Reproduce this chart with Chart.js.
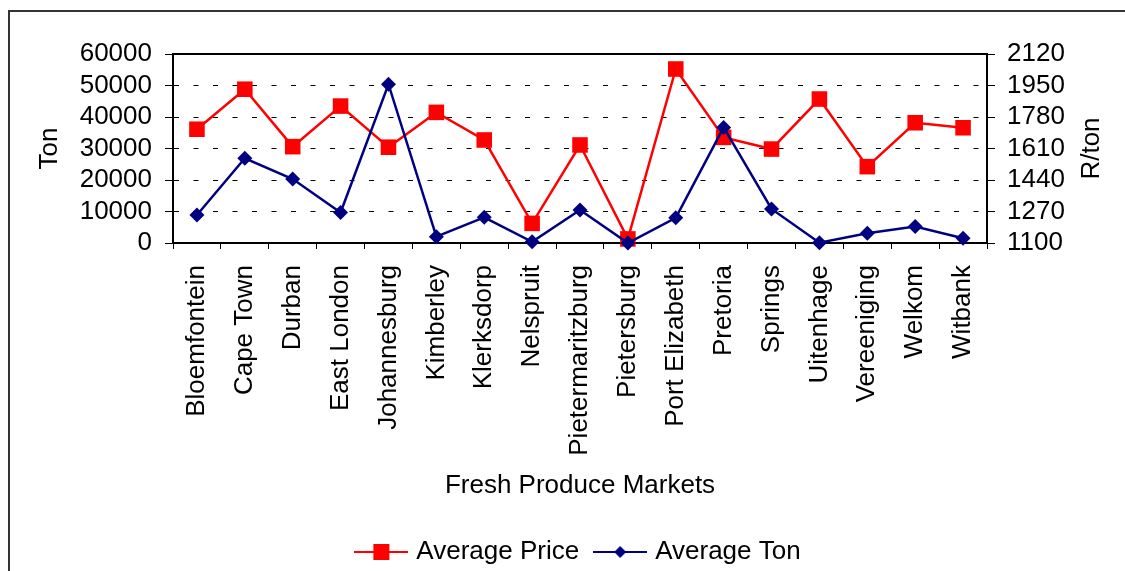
<!DOCTYPE html>
<html>
<head>
<meta charset="utf-8">
<script src="https://cdn.jsdelivr.net/npm/chart.js@4"></script>
<style>
  html, body { margin: 0; padding: 0; background: #fff; overflow: hidden; }
  #wrap { position: relative; width: 1125px; height: 571px; }
  #frame { position: absolute; left: 8px; top: 10px; width: 2000px; height: 2000px; border: 2px solid #333; box-sizing: border-box; }
  #box { position: absolute; left: 0; top: 0; width: 1125px; height: 571px; }
</style>
</head>
<body>
<div id="wrap">
  <div id="frame"></div>
  <div id="box"><canvas id="chart"></canvas></div>
</div>
<script>
const markets = ["Bloemfontein", "Cape Town", "Durban", "East London", "Johannesburg", "Kimberley",
  "Klerksdorp", "Nelspruit", "Pietermaritzburg", "Pietersburg", "Port Elizabeth", "Pretoria",
  "Springs", "Uitenhage", "Vereeniging", "Welkom", "Witbank"];
// R/ton, right axis
const avgPrice = [1714, 1930, 1620, 1839, 1617, 1805, 1656, 1206, 1629, 1122, 2039, 1670, 1607, 1877, 1512, 1749, 1722];
// ton, left axis
const avgTon = [8900, 26900, 20300, 9700, 50400, 2000, 8150, 400, 10500, 0, 8000, 36700, 10800, 100, 3100, 5200, 1500];

const tonTicks = { min: 0, max: 60000, step: 10000 };
const priceTicks = { min: 1100, max: 2120, step: 170 };
const xTitle = "Fresh Produce Markets";
const leftTitle = "Ton";
const rightTitle = "R/ton";

const RED = "#FF0000";
const NAVY = "#000080";
const FONT = "'Liberation Sans', Arial, sans-serif";

Chart.defaults.font.family = FONT;
Chart.defaults.font.size = 26;
Chart.defaults.color = "#000";

// legend icon: line with the marker in the middle
function legendIcon(color, shape) {
  const c = document.createElement("canvas");
  c.width = 54; c.height = 18;
  const g = c.getContext("2d");
  g.strokeStyle = color; g.lineWidth = 2;
  g.beginPath(); g.moveTo(0, 9); g.lineTo(54, 9); g.stroke();
  g.fillStyle = color;
  if (shape === "rect") {
    g.fillRect(19, 1, 16, 16);
  } else {
    g.beginPath();
    g.moveTo(27, 3); g.lineTo(33, 9); g.lineTo(27, 15); g.lineTo(21, 9);
    g.closePath(); g.fill();
  }
  return c;
}
const icons = [legendIcon(RED, "rect"), legendIcon(NAVY, "diamond")];

// top edge of the plot area + rotated right title
const extras = {
  id: "extras",
  beforeDatasetsDraw(chart) {
    const { ctx, chartArea } = chart;
    ctx.save();
    ctx.strokeStyle = "#000";
    ctx.lineWidth = 2;
    ctx.beginPath();
    ctx.moveTo(chartArea.left, chartArea.top);
    ctx.lineTo(chartArea.right, chartArea.top);
    ctx.stroke();
    ctx.restore();
  },
  afterDraw(chart) {
    const { ctx, chartArea } = chart;
    const s = chart.scales.y1;
    ctx.save();
    ctx.font = "26px " + FONT;
    ctx.fillStyle = "#000";
    ctx.textAlign = "center";
    ctx.textBaseline = "middle";
    ctx.translate(s.right - 33, (chartArea.top + chartArea.bottom) / 2);
    ctx.rotate(-Math.PI / 2);
    ctx.fillText(rightTitle, 0, 0);
    ctx.restore();
  }
};

new Chart(document.getElementById("chart"), {
  type: "line",
  data: {
    labels: markets,
    datasets: [
      {
        label: "Average Price",
        data: avgPrice,
        yAxisID: "y1",
        order: 1,
        borderColor: RED,
        backgroundColor: RED,
        borderWidth: 2.5,
        pointStyle: "rect",
        pointRadius: 11,
        pointHoverRadius: 11,
        pointBorderWidth: 0,
        pointBackgroundColor: RED,
        tension: 0,
        clip: false
      },
      {
        label: "Average Ton",
        data: avgTon,
        yAxisID: "y",
        order: 0,
        borderColor: NAVY,
        backgroundColor: NAVY,
        borderWidth: 2.5,
        pointStyle: "rectRot",
        pointRadius: 7.5,
        pointHoverRadius: 7.5,
        pointBorderWidth: 0,
        pointBackgroundColor: NAVY,
        tension: 0,
        clip: false
      }
    ]
  },
  options: {
    responsive: true,
    maintainAspectRatio: false,
    devicePixelRatio: 1,
    animation: false,
    layout: { padding: { top: 54, left: 0, right: 0, bottom: -4 } },
    plugins: {
      tooltip: { enabled: false },
      legend: {
        position: "bottom",
        fullSize: false,
        labels: {
          usePointStyle: true,
          pointStyleWidth: 44,
          padding: 19,
          font: { size: 26 },
          generateLabels: chart => chart.data.datasets.map((ds, i) => ({
            text: ds.label,
            pointStyle: icons[i],
            fillStyle: ds.borderColor,
            strokeStyle: ds.borderColor,
            lineWidth: 0,
            datasetIndex: i,
            hidden: false
          }))
        }
      }
    },
    scales: {
      x: {
        offset: true,
        grid: { offset: true, drawOnChartArea: false, tickLength: 6, color: "#000", tickWidth: 1 },
        border: { display: true, color: "#000", width: 2 },
        ticks: { autoSkip: false, minRotation: 90, maxRotation: 90, padding: 16, font: { size: 26 } },
        title: { display: true, text: xTitle, font: { size: 26 }, padding: { top: 0, bottom: 19 } },
        afterFit(scale) { scale.height = 277; }
      },
      y: {
        position: "left",
        min: tonTicks.min,
        max: tonTicks.max,
        ticks: { stepSize: tonTicks.step, autoSkip: false, padding: 13, callback: v => String(v), font: { size: 26 } },
        grid: {
          lineWidth: 1,
          color: ctx => (ctx.tick && (ctx.tick.value === tonTicks.min || ctx.tick.value === tonTicks.max)) ? "rgba(0,0,0,0)" : "#000",
          tickColor: "#000",
          tickLength: 8,
          tickWidth: 1
        },
        border: { display: true, color: "#000", width: 2, dash: [5, 14.5] },
        title: { display: true, text: leftTitle, font: { size: 26 }, padding: { top: 34, bottom: 0 } },
        afterFit(scale) { scale.width = 173; }
      },
      y1: {
        position: "right",
        min: priceTicks.min,
        max: priceTicks.max,
        ticks: { stepSize: priceTicks.step, autoSkip: false, padding: 12, callback: v => String(v), font: { size: 26 } },
        grid: { drawOnChartArea: false, color: "#000", tickLength: 8, tickWidth: 1 },
        border: { display: true, color: "#000", width: 2 },
        afterFit(scale) { scale.width = 138; }
      }
    }
  },
  plugins: [extras]
});
</script>
</body>
</html>
